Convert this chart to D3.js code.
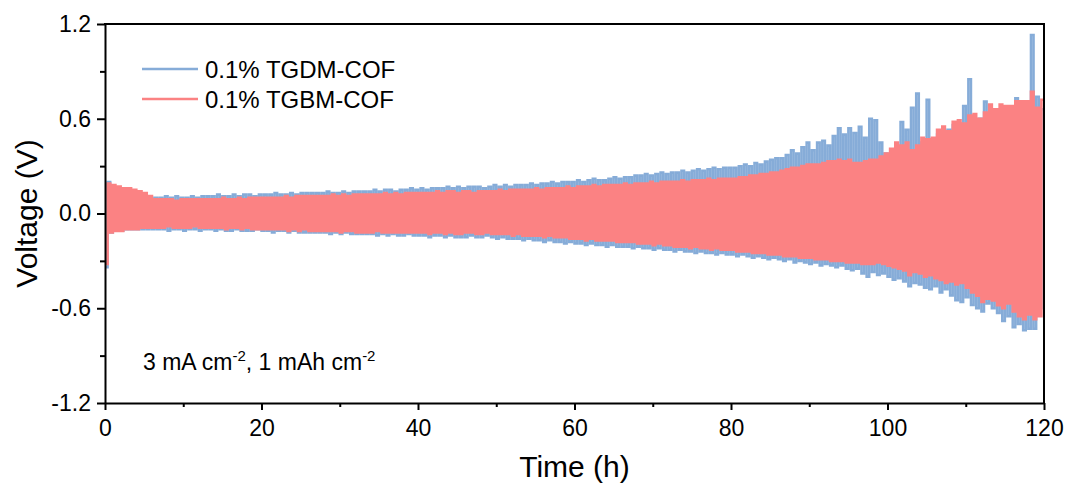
<!DOCTYPE html>
<html>
<head>
<meta charset="utf-8">
<style>
  body { margin: 0; background: #fff; }
  svg text { font-family: Arial, "Liberation Sans", sans-serif; fill: #000; }
  .axis path, .axis line { stroke: #000; stroke-width: 2; }
</style>
<script src="https://d3js.org/d3.v7.min.js"></script>
</head>
<body>
<div id="chart"></div>
<script>
// cycling protocol: 3 mA cm-2 for 1 mAh cm-2 -> 20 min per half cycle
var halfCycle = 1 / 3;

var seriesNames = ["0.1% TGDM-COF", "0.1% TGBM-COF"];
var seriesColors = ["#86acd8", "#fb8283"];
var seriesWidths = [2.5, 2.6];

var xTicks = [0, 20, 40, 60, 80, 100, 120];
var xTickLabels = ["0", "20", "40", "60", "80", "100", "120"];
var yTicks = [-1.2, -0.6, 0, 0.6, 1.2];
var yTickLabels = ["-1.2", "-0.6", "0.0", "0.6", "1.2"];

// peak voltage of each plating / stripping half cycle
var tgdmUpper = [
  0.20,0.13,0.12,0.12,0.11,0.11,0.11,0.10,0.10,0.10,
  0.10,0.11,0.10,0.11,0.10,0.10,0.11,0.10,0.11,0.11,
  0.11,0.12,0.11,0.11,0.12,0.11,0.12,0.12,0.11,0.12,
  0.12,0.12,0.13,0.12,0.12,0.13,0.12,0.13,0.13,0.13,
  0.13,0.13,0.14,0.13,0.13,0.14,0.13,0.14,0.14,0.14,
  0.14,0.15,0.14,0.15,0.15,0.14,0.15,0.15,0.16,0.15,
  0.16,0.15,0.16,0.16,0.16,0.17,0.16,0.17,0.16,0.17,
  0.17,0.17,0.16,0.17,0.18,0.17,0.18,0.17,0.18,0.18,
  0.18,0.19,0.18,0.19,0.19,0.20,0.19,0.20,0.20,0.20,
  0.21,0.20,0.21,0.22,0.21,0.21,0.22,0.23,0.22,0.23,
  0.23,0.24,0.24,0.25,0.24,0.25,0.26,0.25,0.26,0.26,
  0.27,0.26,0.27,0.28,0.27,0.28,0.29,0.28,0.29,0.29,
  0.29,0.30,0.31,0.30,0.32,0.31,0.33,0.34,0.35,0.35,
  0.37,0.40,0.38,0.42,0.45,0.40,0.45,0.46,0.43,0.49,
  0.54,0.50,0.54,0.51,0.55,0.48,0.60,0.59,0.45,0.38,
  0.36,0.42,0.58,0.53,0.67,0.76,0.45,0.72,0.46,0.50,
  0.52,0.53,0.56,0.57,0.68,0.85,0.58,0.60,0.71,0.62,
  0.63,0.64,0.62,0.65,0.73,0.66,0.68,1.13,0.74,0.66
];
var tgdmLower = [
  -0.34,-0.12,-0.11,-0.11,-0.10,-0.10,-0.10,-0.10,-0.10,-0.10,
  -0.10,-0.10,-0.11,-0.10,-0.10,-0.11,-0.10,-0.10,-0.11,-0.10,
  -0.10,-0.11,-0.10,-0.11,-0.11,-0.10,-0.11,-0.11,-0.11,-0.10,
  -0.11,-0.11,-0.12,-0.11,-0.11,-0.12,-0.11,-0.12,-0.12,-0.12,
  -0.12,-0.12,-0.12,-0.13,-0.12,-0.13,-0.12,-0.13,-0.13,-0.13,
  -0.13,-0.13,-0.14,-0.13,-0.14,-0.13,-0.14,-0.14,-0.13,-0.14,
  -0.14,-0.14,-0.15,-0.14,-0.14,-0.15,-0.14,-0.15,-0.15,-0.15,
  -0.14,-0.15,-0.15,-0.14,-0.15,-0.16,-0.15,-0.16,-0.16,-0.16,
  -0.17,-0.16,-0.17,-0.17,-0.18,-0.17,-0.18,-0.18,-0.19,-0.18,
  -0.19,-0.19,-0.20,-0.19,-0.20,-0.20,-0.21,-0.20,-0.21,-0.21,
  -0.21,-0.22,-0.21,-0.22,-0.22,-0.23,-0.22,-0.23,-0.23,-0.24,
  -0.23,-0.24,-0.24,-0.25,-0.24,-0.25,-0.25,-0.26,-0.25,-0.26,
  -0.26,-0.27,-0.26,-0.27,-0.28,-0.27,-0.28,-0.29,-0.28,-0.29,
  -0.30,-0.29,-0.31,-0.30,-0.31,-0.32,-0.31,-0.33,-0.32,-0.33,
  -0.34,-0.33,-0.35,-0.36,-0.35,-0.38,-0.40,-0.37,-0.39,-0.38,
  -0.40,-0.42,-0.41,-0.43,-0.46,-0.44,-0.45,-0.47,-0.48,-0.46,
  -0.50,-0.48,-0.52,-0.55,-0.56,-0.53,-0.58,-0.60,-0.62,-0.57,
  -0.60,-0.63,-0.68,-0.65,-0.72,-0.70,-0.74,-0.73,-0.73,-0.60
];
var tgbmUpper = [
  0.19,0.18,0.17,0.16,0.16,0.15,0.14,0.13,0.11,0.09,
  0.09,0.09,0.09,0.08,0.09,0.09,0.09,0.09,0.09,0.09,
  0.09,0.09,0.10,0.09,0.09,0.10,0.09,0.10,0.10,0.10,
  0.10,0.10,0.10,0.10,0.11,0.10,0.11,0.11,0.11,0.11,
  0.11,0.11,0.11,0.12,0.11,0.12,0.11,0.12,0.12,0.12,
  0.12,0.12,0.12,0.13,0.12,0.13,0.12,0.13,0.13,0.13,
  0.13,0.13,0.13,0.14,0.13,0.14,0.14,0.13,0.14,0.14,
  0.13,0.14,0.14,0.14,0.14,0.15,0.14,0.15,0.15,0.15,
  0.15,0.15,0.16,0.15,0.16,0.16,0.16,0.16,0.17,0.16,
  0.17,0.17,0.17,0.18,0.17,0.18,0.18,0.18,0.18,0.19,
  0.18,0.19,0.19,0.19,0.20,0.19,0.20,0.20,0.20,0.20,
  0.21,0.20,0.21,0.21,0.21,0.22,0.21,0.22,0.22,0.22,
  0.22,0.23,0.23,0.24,0.24,0.25,0.25,0.26,0.26,0.27,
  0.28,0.29,0.29,0.30,0.31,0.31,0.31,0.32,0.33,0.33,
  0.34,0.33,0.34,0.32,0.32,0.33,0.34,0.34,0.36,0.38,
  0.41,0.45,0.43,0.45,0.40,0.43,0.48,0.47,0.48,0.53,
  0.55,0.52,0.58,0.59,0.57,0.62,0.63,0.60,0.64,0.69,
  0.66,0.69,0.68,0.68,0.71,0.71,0.71,0.77,0.67,0.72
];
var tgbmLower = [
  -0.32,-0.12,-0.11,-0.11,-0.10,-0.10,-0.10,-0.09,-0.09,-0.09,
  -0.09,-0.09,-0.08,-0.09,-0.09,-0.09,-0.09,-0.08,-0.09,-0.09,
  -0.09,-0.09,-0.09,-0.10,-0.09,-0.09,-0.10,-0.09,-0.10,-0.10,
  -0.10,-0.10,-0.10,-0.10,-0.10,-0.11,-0.10,-0.11,-0.10,-0.11,
  -0.11,-0.11,-0.11,-0.11,-0.11,-0.12,-0.11,-0.11,-0.12,-0.12,
  -0.12,-0.12,-0.11,-0.12,-0.12,-0.12,-0.12,-0.12,-0.12,-0.12,
  -0.12,-0.12,-0.13,-0.12,-0.12,-0.13,-0.12,-0.13,-0.13,-0.12,
  -0.12,-0.13,-0.13,-0.12,-0.13,-0.13,-0.13,-0.13,-0.14,-0.13,
  -0.14,-0.14,-0.14,-0.14,-0.15,-0.14,-0.15,-0.15,-0.15,-0.16,
  -0.16,-0.16,-0.17,-0.16,-0.17,-0.17,-0.17,-0.17,-0.18,-0.18,
  -0.18,-0.18,-0.19,-0.19,-0.19,-0.20,-0.19,-0.20,-0.20,-0.21,
  -0.21,-0.21,-0.22,-0.21,-0.22,-0.22,-0.23,-0.22,-0.23,-0.23,
  -0.23,-0.24,-0.24,-0.24,-0.25,-0.25,-0.25,-0.26,-0.26,-0.26,
  -0.27,-0.27,-0.27,-0.28,-0.28,-0.28,-0.29,-0.29,-0.29,-0.30,
  -0.30,-0.30,-0.31,-0.31,-0.31,-0.32,-0.32,-0.32,-0.31,-0.32,
  -0.33,-0.34,-0.35,-0.36,-0.39,-0.37,-0.38,-0.40,-0.39,-0.41,
  -0.42,-0.44,-0.43,-0.45,-0.44,-0.47,-0.50,-0.52,-0.56,-0.54,
  -0.55,-0.58,-0.60,-0.57,-0.62,-0.65,-0.67,-0.64,-0.67,-0.65
];

var width = 1070, height = 488;
var margin = {left: 105, right: 26, top: 24, bottom: 85};

var svg = d3.select("#chart").append("svg")
    .attr("width", width)
    .attr("height", height);

var x = d3.scaleLinear().domain([0, 120]).range([margin.left, width - margin.right]);
var y = d3.scaleLinear().domain([-1.2, 1.2]).range([height - margin.bottom, margin.top]);

svg.append("clipPath").attr("id", "plot-clip")
  .append("rect")
    .attr("x", x(0)).attr("y", y(1.2))
    .attr("width", x(120) - x(0)).attr("height", y(-1.2) - y(1.2));

// turn the half-cycle peaks into a stepped voltage trace
function trace(lower, upper) {
  var pts = [];
  for (var i = 0; i < lower.length; i++) {
    pts.push([2 * i * halfCycle, lower[i]]);
    pts.push([(2 * i + 1) * halfCycle, upper[i]]);
  }
  pts.push([2 * lower.length * halfCycle, upper[upper.length - 1]]);
  return pts;
}

var line = d3.line()
    .x(function(d) { return x(d[0]); })
    .y(function(d) { return y(d[1]); })
    .curve(d3.curveStepAfter);

var traces = [trace(tgdmLower, tgdmUpper), trace(tgbmLower, tgbmUpper)];

svg.append("g").attr("clip-path", "url(#plot-clip)")
  .selectAll("path")
  .data(traces)
  .enter().append("path")
    .attr("d", line)
    .attr("fill", "none")
    .attr("stroke", function(d, i) { return seriesColors[i]; })
    .attr("stroke-width", function(d, i) { return seriesWidths[i]; })
    .attr("stroke-linejoin", "miter");

// minor ticks
svg.append("g").attr("class", "axis")
    .attr("transform", "translate(0," + y(-1.2) + ")")
    .call(d3.axisBottom(x).tickValues([10, 30, 50, 70, 90, 110]).tickSize(4).tickFormat(""))
    .select(".domain").remove();
svg.append("g").attr("class", "axis")
    .attr("transform", "translate(" + x(0) + ",0)")
    .call(d3.axisLeft(y).tickValues([-0.9, -0.3, 0.3, 0.9]).tickSize(5).tickFormat(""))
    .select(".domain").remove();

// major ticks
var xAxis = svg.append("g").attr("class", "axis")
    .attr("transform", "translate(0," + y(-1.2) + ")")
    .call(d3.axisBottom(x).tickValues(xTicks).tickSize(7).tickSizeOuter(0)
      .tickFormat(function(d, i) { return xTickLabels[i]; }));
xAxis.selectAll("text").attr("font-size", 23).attr("dy", "1.02em");

var yAxis = svg.append("g").attr("class", "axis")
    .attr("transform", "translate(" + x(0) + ",0)")
    .call(d3.axisLeft(y).tickValues(yTicks).tickSize(8).tickSizeOuter(0)
      .tickFormat(function(d, i) { return yTickLabels[i]; }));
yAxis.selectAll("text").attr("font-size", 23).attr("x", -14);

// box top and right
svg.append("line").attr("x1", x(0) - 1).attr("x2", x(120) + 1).attr("y1", y(1.2)).attr("y2", y(1.2))
    .attr("stroke", "#000").attr("stroke-width", 2);
svg.append("line").attr("x1", x(120)).attr("x2", x(120)).attr("y1", y(1.2)).attr("y2", y(-1.2))
    .attr("stroke", "#000").attr("stroke-width", 2);

// axis titles
svg.append("text")
    .attr("x", (x(0) + x(120)) / 2).attr("y", 477)
    .attr("text-anchor", "middle").attr("font-size", 30)
    .text("Time (h)");
svg.append("text")
    .attr("transform", "translate(37," + y(0) + ") rotate(-90)")
    .attr("text-anchor", "middle").attr("font-size", 30)
    .text("Voltage (V)");

// legend
var legend = svg.append("g").selectAll("g")
    .data(seriesNames)
    .enter().append("g")
    .attr("transform", function(d, i) { return "translate(142," + (69 + i * 30) + ")"; });
legend.append("line")
    .attr("x1", 0).attr("x2", 56)
    .attr("stroke", function(d, i) { return seriesColors[i]; })
    .attr("stroke-width", 2.5);
legend.append("text")
    .attr("x", 63).attr("dy", "0.36em")
    .attr("font-size", 24)
    .text(function(d) { return d; });

// test condition
var note = svg.append("text")
    .attr("x", 143).attr("y", 370)
    .attr("font-size", 23);
note.append("tspan").text("3 mA cm");
note.append("tspan").attr("dy", -9).attr("font-size", 15).text("-2");
note.append("tspan").attr("dy", 9).text(", 1 mAh cm");
note.append("tspan").attr("dy", -9).attr("font-size", 15).text("-2");
</script>
</body>
</html>
